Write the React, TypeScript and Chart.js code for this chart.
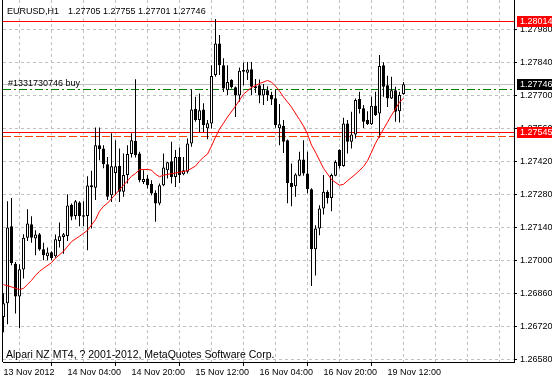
import React, { useEffect, useRef } from "react";
import { Chart, registerables } from "chart.js";

Chart.register(...registerables);

const symbolTitle = "EURUSD,H1";
const lastBarText = ["1.27705", "1.27755", "1.27701", "1.27746"];
const orderLabel = "#1331730746 buy";
const footerText = "Alpari NZ MT4, ? 2001-2012, MetaQuotes Software Corp.";

const xTickLabels = ["13 Nov 2012", "14 Nov 04:00", "14 Nov 20:00", "15 Nov 12:00", "16 Nov 04:00", "16 Nov 20:00", "19 Nov 12:00"];

const opens = [
  1.26760, 1.26818, 1.27144, 1.26985, 1.26847, 1.26961, 1.27096, 1.27153, 1.27092, 1.27110,
  1.27047, 1.27017, 1.27034, 1.27017, 1.27082, 1.27099, 1.27103, 1.27235, 1.27188, 1.27245,
  1.27184, 1.27188, 1.27318, 1.27307, 1.27488, 1.27474, 1.27407, 1.27276, 1.27370, 1.27400,
  1.27290, 1.27361, 1.27450, 1.27505, 1.27453, 1.27332, 1.27347, 1.27323, 1.27286, 1.27241,
  1.27318, 1.27382, 1.27420, 1.27353, 1.27438, 1.27365, 1.27375, 1.27495, 1.27641, 1.27594,
  1.27639, 1.27560, 1.27580, 1.27785, 1.27919, 1.27827, 1.27721, 1.27764, 1.27733, 1.27698,
  1.27799, 1.27795, 1.27810, 1.27738, 1.27742, 1.27698, 1.27721, 1.27700, 1.27687, 1.27560,
  1.27569, 1.27509, 1.27328, 1.27314, 1.27358, 1.27427, 1.27368, 1.27301, 1.27047, 1.27135,
  1.27219, 1.27290, 1.27264, 1.27358, 1.27467, 1.27400, 1.27580, 1.27502, 1.27533, 1.27683,
  1.27644, 1.27594, 1.27576, 1.27655, 1.27622, 1.27827, 1.27742, 1.27686, 1.27721, 1.27632,
  1.27705,
];
const highs = [
  1.26860, 1.27250, 1.27264, 1.26993, 1.26983, 1.27110, 1.27216, 1.27187, 1.27127, 1.27116,
  1.27074, 1.27054, 1.27038, 1.27109, 1.27160, 1.27116, 1.27280, 1.27241, 1.27255, 1.27250,
  1.27250, 1.27356, 1.27379, 1.27563, 1.27563, 1.27488, 1.27438, 1.27538, 1.27509, 1.27474,
  1.27453, 1.27488, 1.27538, 1.27767, 1.27460, 1.27382, 1.27361, 1.27339, 1.27297, 1.27325,
  1.27453, 1.27417, 1.27502, 1.27467, 1.27478, 1.27438, 1.27516, 1.27724, 1.27693, 1.27707,
  1.27665, 1.27594, 1.27827, 1.28022, 1.27955, 1.27856, 1.27827, 1.27767, 1.27736, 1.27817,
  1.27838, 1.27840, 1.27840, 1.27768, 1.27766, 1.27747, 1.27738, 1.27714, 1.27723, 1.27662,
  1.27594, 1.27512, 1.27410, 1.27369, 1.27460, 1.27509, 1.27460, 1.27305, 1.27149, 1.27233,
  1.27361, 1.27297, 1.27368, 1.27424, 1.27471, 1.27604, 1.27594, 1.27629, 1.27686, 1.27714,
  1.27658, 1.27632, 1.27693, 1.27714, 1.27870, 1.27839, 1.27782, 1.27778, 1.27735, 1.27714,
  1.27755,
];
const lows = [
  1.26695, 1.26729, 1.26979, 1.26774, 1.26712, 1.26923, 1.27082, 1.27074, 1.27021, 1.27040,
  1.27000, 1.27000, 1.27000, 1.27011, 1.27054, 1.27028, 1.27082, 1.27170, 1.27173, 1.27144,
  1.27144, 1.27043, 1.27135, 1.27255, 1.27424, 1.27390, 1.27255, 1.27247, 1.27276, 1.27247,
  1.27269, 1.27325, 1.27436, 1.27436, 1.27331, 1.27323, 1.27304, 1.27276, 1.27163, 1.27233,
  1.27314, 1.27347, 1.27325, 1.27311, 1.27328, 1.27360, 1.27368, 1.27481, 1.27587, 1.27544,
  1.27544, 1.27513, 1.27559, 1.27778, 1.27785, 1.27713, 1.27700, 1.27728, 1.27607, 1.27672,
  1.27742, 1.27764, 1.27700, 1.27709, 1.27666, 1.27658, 1.27675, 1.27658, 1.27562, 1.27488,
  1.27455, 1.27242, 1.27229, 1.27269, 1.27356, 1.27358, 1.27284, 1.26891, 1.26936, 1.27106,
  1.27194, 1.27241, 1.27208, 1.27356, 1.27389, 1.27396, 1.27453, 1.27474, 1.27516, 1.27622,
  1.27561, 1.27573, 1.27573, 1.27611, 1.27519, 1.27693, 1.27650, 1.27683, 1.27587, 1.27584,
  1.27701,
];
const closes = [
  1.26818, 1.27139, 1.26989, 1.26847, 1.26962, 1.27096, 1.27156, 1.27096, 1.27109, 1.27046,
  1.27021, 1.27033, 1.27010, 1.27089, 1.27102, 1.27110, 1.27232, 1.27184, 1.27250, 1.27188,
  1.27191, 1.27317, 1.27310, 1.27488, 1.27471, 1.27407, 1.27269, 1.27399, 1.27399, 1.27290,
  1.27361, 1.27450, 1.27509, 1.27446, 1.27339, 1.27344, 1.27318, 1.27283, 1.27241, 1.27318,
  1.27393, 1.27415, 1.27353, 1.27438, 1.27361, 1.27382, 1.27495, 1.27639, 1.27594, 1.27636,
  1.27573, 1.27581, 1.27781, 1.27919, 1.27827, 1.27728, 1.27756, 1.27733, 1.27698, 1.27803,
  1.27806, 1.27809, 1.27735, 1.27730, 1.27698, 1.27726, 1.27700, 1.27681, 1.27573, 1.27577,
  1.27502, 1.27328, 1.27311, 1.27364, 1.27427, 1.27368, 1.27301, 1.27047, 1.27135, 1.27219,
  1.27290, 1.27264, 1.27361, 1.27417, 1.27400, 1.27580, 1.27502, 1.27533, 1.27679, 1.27641,
  1.27587, 1.27576, 1.27655, 1.27615, 1.27823, 1.27735, 1.27686, 1.27721, 1.27629, 1.27700,
  1.27746,
];

const maBars = [
  0, 2, 4, 5, 6, 7, 8, 9, 10, 12, 13, 15, 17, 19, 21, 23, 24, 25, 26, 28,
  30, 32, 33, 34, 36, 37, 38, 39, 40, 42, 44, 46, 48, 49, 50, 51, 52, 53, 54, 55,
  56, 58, 60, 62, 64, 66, 67, 68, 69, 70, 72, 74, 75, 76, 77, 78, 80, 82, 84, 85,
  86, 88, 90, 91, 92, 93, 94, 95, 96, 97, 98, 99, 100,
];
const maValues = [
  1.26897, 1.26887, 1.26876, 1.26881, 1.26898, 1.26915, 1.26936, 1.26953, 1.26966, 1.26990,
  1.27009, 1.27038, 1.27079, 1.27102, 1.27127, 1.27172, 1.27208, 1.27229, 1.27242, 1.27280,
  1.27318, 1.27356, 1.27368, 1.27384, 1.27385, 1.27382, 1.27365, 1.27354, 1.27361, 1.27367,
  1.27373, 1.27380, 1.27399, 1.27420, 1.27437, 1.27450, 1.27484, 1.27522, 1.27556, 1.27581,
  1.27607, 1.27653, 1.27704, 1.27732, 1.27749, 1.27762, 1.27755, 1.27738, 1.27717, 1.27692,
  1.27649, 1.27596, 1.27569, 1.27535, 1.27488, 1.27458, 1.27390, 1.27342, 1.27318, 1.27322,
  1.27337, 1.27365, 1.27397, 1.27422, 1.27458, 1.27496, 1.27526, 1.27556, 1.27585, 1.27615,
  1.27641, 1.27670, 1.27687,
];

const priceTicks = [1.2658, 1.2672, 1.2686, 1.27, 1.2714, 1.2728, 1.2742, 1.2756, 1.277, 1.2784, 1.2798];

const upperRedLevel = 1.28014;
const bidLevel = 1.27746;
const orderLevel = 1.27724;
const lowerRedLevel = 1.27545;
const lowerDashLevel = 1.27526;

const priceMin = 1.26569;
const priceMax = 1.28103;
const barMin = -0.125;
const barMax = 127.625;

const FONT = "'Liberation Sans', Arial, sans-serif";
const FONT_SIZE = 9;
const FOOTER_SIZE = 10.5;

const mtPlugin = {
  id: "mtOverlay",
  beforeDatasetsDraw(chart: any) {
    const { ctx, chartArea: a } = chart;
    const y = chart.scales.y;
    const hLine = (price: number, color: string, dash: number[]) => {
      const py = Math.round(y.getPixelForValue(price)) + 0.5;
      ctx.save();
      ctx.beginPath();
      ctx.rect(a.left, a.top, a.right - a.left, a.bottom - a.top);
      ctx.clip();
      ctx.strokeStyle = color;
      ctx.lineWidth = 1;
      ctx.setLineDash(dash);
      ctx.beginPath();
      ctx.moveTo(a.left, py);
      ctx.lineTo(a.right, py);
      ctx.stroke();
      ctx.restore();
    };
    hLine(bidLevel, "#c0c0c0", []);
    hLine(orderLevel, "#008000", [8, 3, 2, 3]);
    hLine(upperRedLevel, "#ff0000", []);
    hLine(lowerRedLevel, "#ff0000", []);
    hLine(lowerDashLevel, "#ff4500", [8, 3]);
  },
  afterDraw(chart: any) {
    const { ctx, chartArea: a } = chart;
    const y = chart.scales.y;
    ctx.save();
    ctx.strokeStyle = "#000";
    ctx.lineWidth = 1;
    ctx.setLineDash([]);
    ctx.beginPath();
    ctx.moveTo(2.5, a.top);
    ctx.lineTo(2.5, a.bottom);
    ctx.stroke();

    ctx.font = `${FONT_SIZE}px ${FONT}`;
    ctx.fillStyle = "#000";
    ctx.textAlign = "left";
    ctx.textBaseline = "alphabetic";
    ctx.fillText(symbolTitle, 7, 14);
    ctx.fillText(lastBarText.join(" "), 68, 14);
    ctx.fillText(orderLabel, 8, 86);
    ctx.font = `${FOOTER_SIZE}px ${FONT}`;
    ctx.fillText(footerText, 6, 358);

    ctx.font = `${FONT_SIZE}px ${FONT}`;
    const tag = (price: number, bg: string) => {
      const py = Math.round(y.getPixelForValue(price));
      ctx.fillStyle = bg;
      ctx.fillRect(a.right + 3, py - 5, chart.width - a.right - 3, 11);
      ctx.fillStyle = "#fff";
      ctx.textBaseline = "middle";
      ctx.fillText(price.toFixed(5), a.right + 6, py + 0.5);
    };
    tag(upperRedLevel, "#ff0000");
    tag(bidLevel, "#000000");
    tag(lowerRedLevel, "#ff0000");
    ctx.restore();
  },
};

export default function App() {
  const ref = useRef<HTMLCanvasElement>(null);
  useEffect(() => {
    const canvas = ref.current;
    if (!canvas) return;
    const bodyColors = opens.map((o, i) => (closes[i] >= o ? "#ffffff" : "#000000"));
    const chart = new Chart(canvas, {
      type: "bar",
      data: {
        datasets: [
          {
            type: "line",
            label: "MA",
            data: maBars.map((b, i) => ({ x: b, y: maValues[i] })),
            borderColor: "#ff0000",
            borderWidth: 1,
            pointRadius: 0,
            tension: 0,
            order: 0,
          } as any,
          {
            type: "bar",
            label: "body",
            data: opens.map((o, i) => ({ x: i, y: [o, closes[i]] })),
            backgroundColor: bodyColors,
            borderColor: "#000000",
            borderWidth: 1,
            borderSkipped: false,
            barThickness: 3,
            grouped: false,
            inflateAmount: 0,
            order: 1,
          } as any,
          {
            type: "bar",
            label: "wick",
            data: lows.map((l, i) => ({ x: i, y: [l, highs[i]] })),
            backgroundColor: "#000000",
            borderWidth: 0,
            barThickness: 1,
            grouped: false,
            inflateAmount: 0,
            order: 2,
          } as any,
        ],
      },
      options: {
        responsive: false,
        animation: false,
        devicePixelRatio: 1,
        layout: { padding: { left: 3, right: 0, top: 0, bottom: 0 } },
        plugins: { legend: { display: false }, tooltip: { enabled: false }, title: { display: false } },
        scales: {
          x: {
            type: "linear",
            min: barMin,
            max: barMax,
            offset: false,
            afterBuildTicks: (s: any) => {
              const t = [];
              for (let v = 0; v <= barMax; v += 8) t.push({ value: v });
              s.ticks = t;
            },
            afterFit: (s: any) => {
              s.height = 18;
              s.paddingLeft = 0;
              s.paddingRight = 0;
            },
            ticks: {
              autoSkip: false,
              maxRotation: 0,
              minRotation: 0,
              align: "start",
              padding: 1,
              color: "#000",
              font: { family: FONT, size: FONT_SIZE },
              callback: (v: any) => {
                const k = Number(v) / 16;
                return Number.isInteger(k) && k < xTickLabels.length ? xTickLabels[k] : "";
              },
            },
            grid: {
              color: "#c0c0c0",
              lineWidth: 1,
              tickLength: 4,
              tickWidth: 1,
              tickBorderDash: [],
              tickColor: (c: any) => {
                const v = c.tick ? c.tick.value : -1;
                return v % 16 === 0 && v / 16 < xTickLabels.length ? "#000" : "rgba(0,0,0,0)";
              },
            },
            border: { display: true, color: "#000", width: 1, dash: [3, 3] },
          } as any,
          y: {
            type: "linear",
            position: "right",
            min: priceMin,
            max: priceMax,
            afterBuildTicks: (s: any) => {
              s.ticks = priceTicks.map((v) => ({ value: v }));
            },
            afterFit: (s: any) => {
              s.width = 38;
              s.paddingTop = 0;
              s.paddingBottom = 0;
            },
            ticks: {
              color: "#000",
              padding: 3,
              font: { family: FONT, size: FONT_SIZE },
              callback: (v: any) => Number(v).toFixed(5),
            },
            grid: { color: "#c0c0c0", lineWidth: 1, tickLength: 3, tickColor: "#000", tickBorderDash: [] },
            border: { display: true, color: "#000", width: 1, dash: [3, 3] },
          } as any,
        },
      },
      plugins: [mtPlugin],
    } as any);
    return () => chart.destroy();
  }, []);
  return (
    <div style={{ position: "fixed", left: 0, top: 0, width: 552, height: 380, background: "#fff" }}>
      <canvas ref={ref} width={552} height={380} style={{ display: "block" }} />
    </div>
  );
}
